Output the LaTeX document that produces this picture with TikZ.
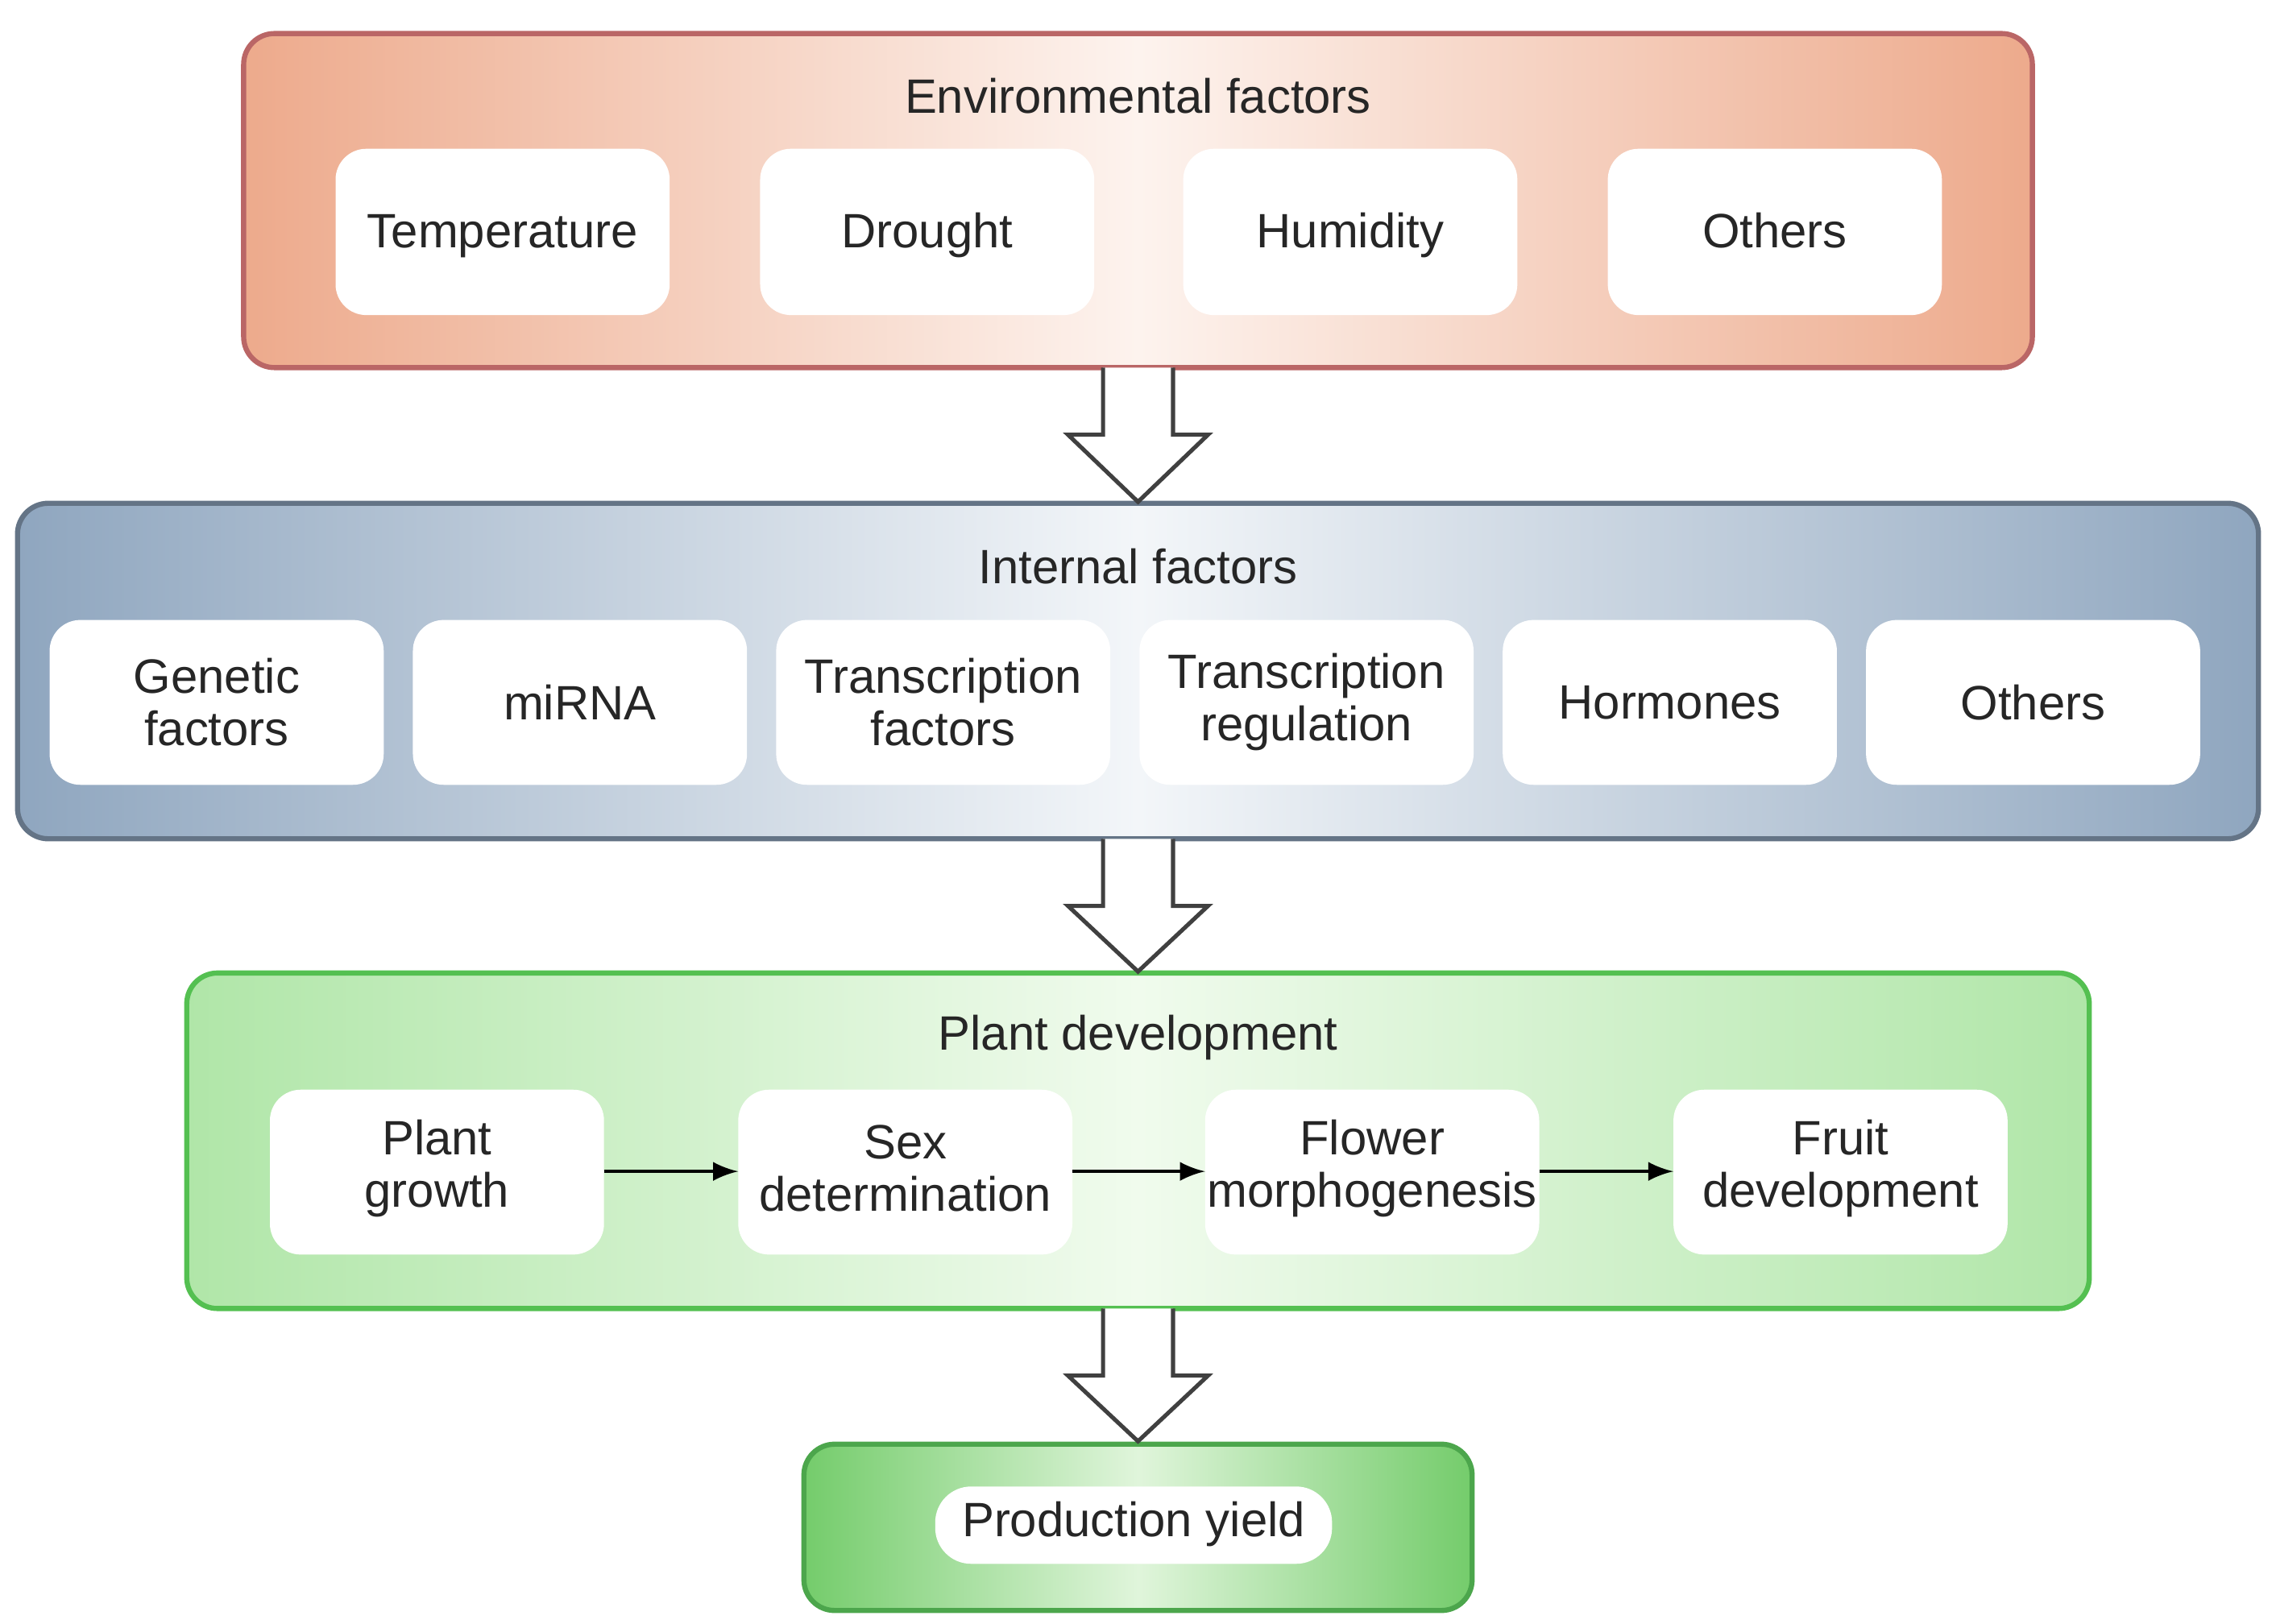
\documentclass[tikz,border=0pt]{standalone}
\usepackage{fontspec}
\setmainfont{Liberation Sans}
\begin{document}
\begin{tikzpicture}[x=0.01cm,y=-0.01cm,
  panel/.style={rounded corners=6pt,line width=1pt},
  item/.style={fill=white,rounded corners=6pt,draw=none},
  lbl/.style={font=\fontsize{9.4}{10.2}\selectfont,align=center,text=black!85},
  ttl/.style={font=\fontsize{9.4}{10}\selectfont,text=black!85},
  big/.style={draw=black!75,fill=white,line width=0.8pt,line join=miter},
  sm/.style={-latex,line width=0.7pt}]
\useasboundingbox (0,0) rectangle (1560,1113);
\definecolor{envE}{HTML}{EDAA8C}\definecolor{envM}{HTML}{FDF3EE}
\definecolor{intE}{HTML}{8FA6BF}\definecolor{intM}{HTML}{F3F6F9}
\definecolor{plE}{HTML}{B0E6A8}\definecolor{plM}{HTML}{F0FBED}
\definecolor{yE}{HTML}{74CC6B}\definecolor{yM}{HTML}{E0F5DB}
% panels
\path[panel,draw=red!55!black!60,left color=envE,right color=envE,middle color=envM] (167,23) rectangle (1393,252);
\path[panel,draw=intE!70!black,left color=intE,right color=intE,middle color=intM] (12,345) rectangle (1548,575);
\path[panel,draw=plE!60!green!80!black,left color=plE,right color=plE,middle color=plM] (128,667) rectangle (1432,897);
\path[panel,draw=green!50!black!70,left color=yE,right color=yE,middle color=yM] (551,990) rectangle (1009,1104);
\node[ttl] (envt) at (780,66) {Environmental factors};
\node[ttl] (intt) at (780,388) {Internal factors};
\node[ttl] (plt) at (780,711) {Plant development};
% env items
\foreach \n/\x/\t in {e1/230/Temperature,e2/521/Drought,e3/811/Humidity,e4/1102/Others}{
  \path[item] (\x,102) rectangle ++(229,114);
  \node[lbl,anchor=base] (\n) at (\x+114.5,170) {\t};}
% internal items
\foreach \n/\x/\t in {i1/34/{Genetic\\factors},i2/283/miRNA,i3/532/{Transcription\\factors},i4/781/{Transcription\\regulation},i5/1030/Hormones,i6/1279/Others}{
  \path[item] (\x,425) rectangle ++(229,113);
  \node[lbl] (\n) at (\x+114.5,481.5) {\t};}
% plant items
\foreach \n/\x/\t in {p1/185/{Plant\\growth},p2/506/{Sex\\determination},p3/826/{Flower\\morphogenesis},p4/1147/{Fruit\\development}}{
  \path[item] (\x,747) rectangle ++(229,113);
  \coordinate (\n L) at (\x,803); \coordinate (\n R) at (\x+229,803);
  \node[lbl] (\n) at (\x+114.5,801) {\t};}
\draw[sm] (p1R) -- (p2L);
\draw[sm] (p2R) -- (p3L);
\draw[sm] (p3R) -- (p4L);
% yield
\path[item,rounded corners=7pt] (641,1019) rectangle (913,1072);
\node[lbl] (y) at (777,1045) {Production yield};
% big arrows
\foreach \a/\b in {252/344,575/666,897/988}{
  \draw[big] (756,\a) -- (756,\a+46) -- (732,\a+46) -- (780,\b) -- (828,\a+46) -- (804,\a+46) -- (804,\a);}
\end{tikzpicture}
\end{document}
